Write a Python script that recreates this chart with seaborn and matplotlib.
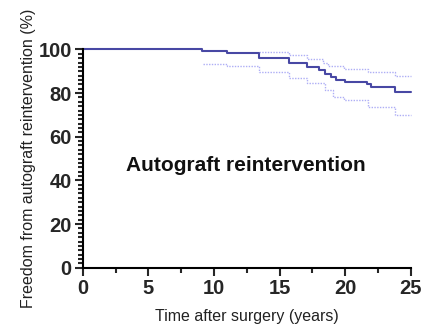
import matplotlib
matplotlib.use('Agg')
import matplotlib.pyplot as plt
import seaborn as sns
import pandas as pd
from matplotlib.ticker import MultipleLocator

# Kaplan-Meier estimate
kmTimes = [0, 9.1, 11.0, 13.4, 15.7, 17.1, 18.0, 18.5, 18.9, 19.3, 20.0, 21.65, 22.0, 23.8, 25]
kmSurv = [100, 99.3, 98.2, 95.9, 94.0, 91.8, 90.6, 88.6, 87.2, 86.0, 85.2, 84.0, 82.6, 80.3, 80.3]

# 95% confidence bounds
upperTimes = [13.4, 15.7, 17.1, 18.3, 18.7, 19.9, 21.75, 23.8, 25]
upperSurv = [98.7, 97.4, 95.8, 93.9, 92.5, 91.1, 89.7, 87.7, 87.7]
lowerTimes = [9.15, 11.0, 13.4, 15.7, 17.1, 18.5, 19.05, 19.9, 21.75, 23.8, 25]
lowerSurv = [93.4, 92.4, 89.6, 86.9, 84.4, 81.2, 78.3, 76.7, 73.5, 70.0, 70.0]

xTicks = [0, 5, 10, 15, 20, 25]
yTicks = [0, 20, 40, 60, 80, 100]

sns.set_style('ticks')
plt.rcParams['font.family'] = ['Liberation Sans', 'DejaVu Sans']

kmData = pd.DataFrame({'time': kmTimes, 'surv': kmSurv})
upperData = pd.DataFrame({'time': upperTimes, 'surv': upperSurv})
lowerData = pd.DataFrame({'time': lowerTimes, 'surv': lowerSurv})

fig = plt.figure(figsize=(4.36, 3.34), dpi=100)
ax = fig.add_axes([0.19, 0.1985, 0.752, 0.6535])

ciColor = '#aeaef5'
for ciData in (upperData, lowerData):
    sns.lineplot(data=ciData, x='time', y='surv', ax=ax, estimator=None,
                 drawstyle='steps-post', color=ciColor, lw=1.0,
                 linestyle=(0, (1, 1)), clip_on=False)
sns.lineplot(data=kmData, x='time', y='surv', ax=ax, estimator=None,
             drawstyle='steps-post', color='#4848a4', lw=1.5, clip_on=False)

ax.set_xlim(0, 25)
ax.set_ylim(0, 100)
ax.set_xticks(xTicks)
ax.set_yticks(yTicks)
ax.xaxis.set_minor_locator(MultipleLocator(2.5))
ax.yaxis.set_minor_locator(MultipleLocator(2))
ax.tick_params(which='major', length=6, width=1.5, direction='out', labelsize=14.5, pad=2)
ax.tick_params(which='minor', length=3.5, width=1.5, direction='out')
for lbl in ax.get_xticklabels() + ax.get_yticklabels():
    lbl.set_fontweight('bold')

sns.despine(ax=ax)
for side in ('left', 'bottom'):
    ax.spines[side].set_linewidth(1.5)
    ax.spines[side].set_color('black')

ax.set_xlabel('Time after surgery (years)', fontsize=11.5, labelpad=8, color='#222222')
ax.set_ylabel('Freedom from autograft reintervention (%)', fontsize=11.5, labelpad=2,
              color='#222222')
ax.text(12.45, 47, 'Autograft reintervention', ha='center', va='center',
        fontsize=15, fontweight='bold', color='#111111')

fig.savefig('out.png', dpi=100)
